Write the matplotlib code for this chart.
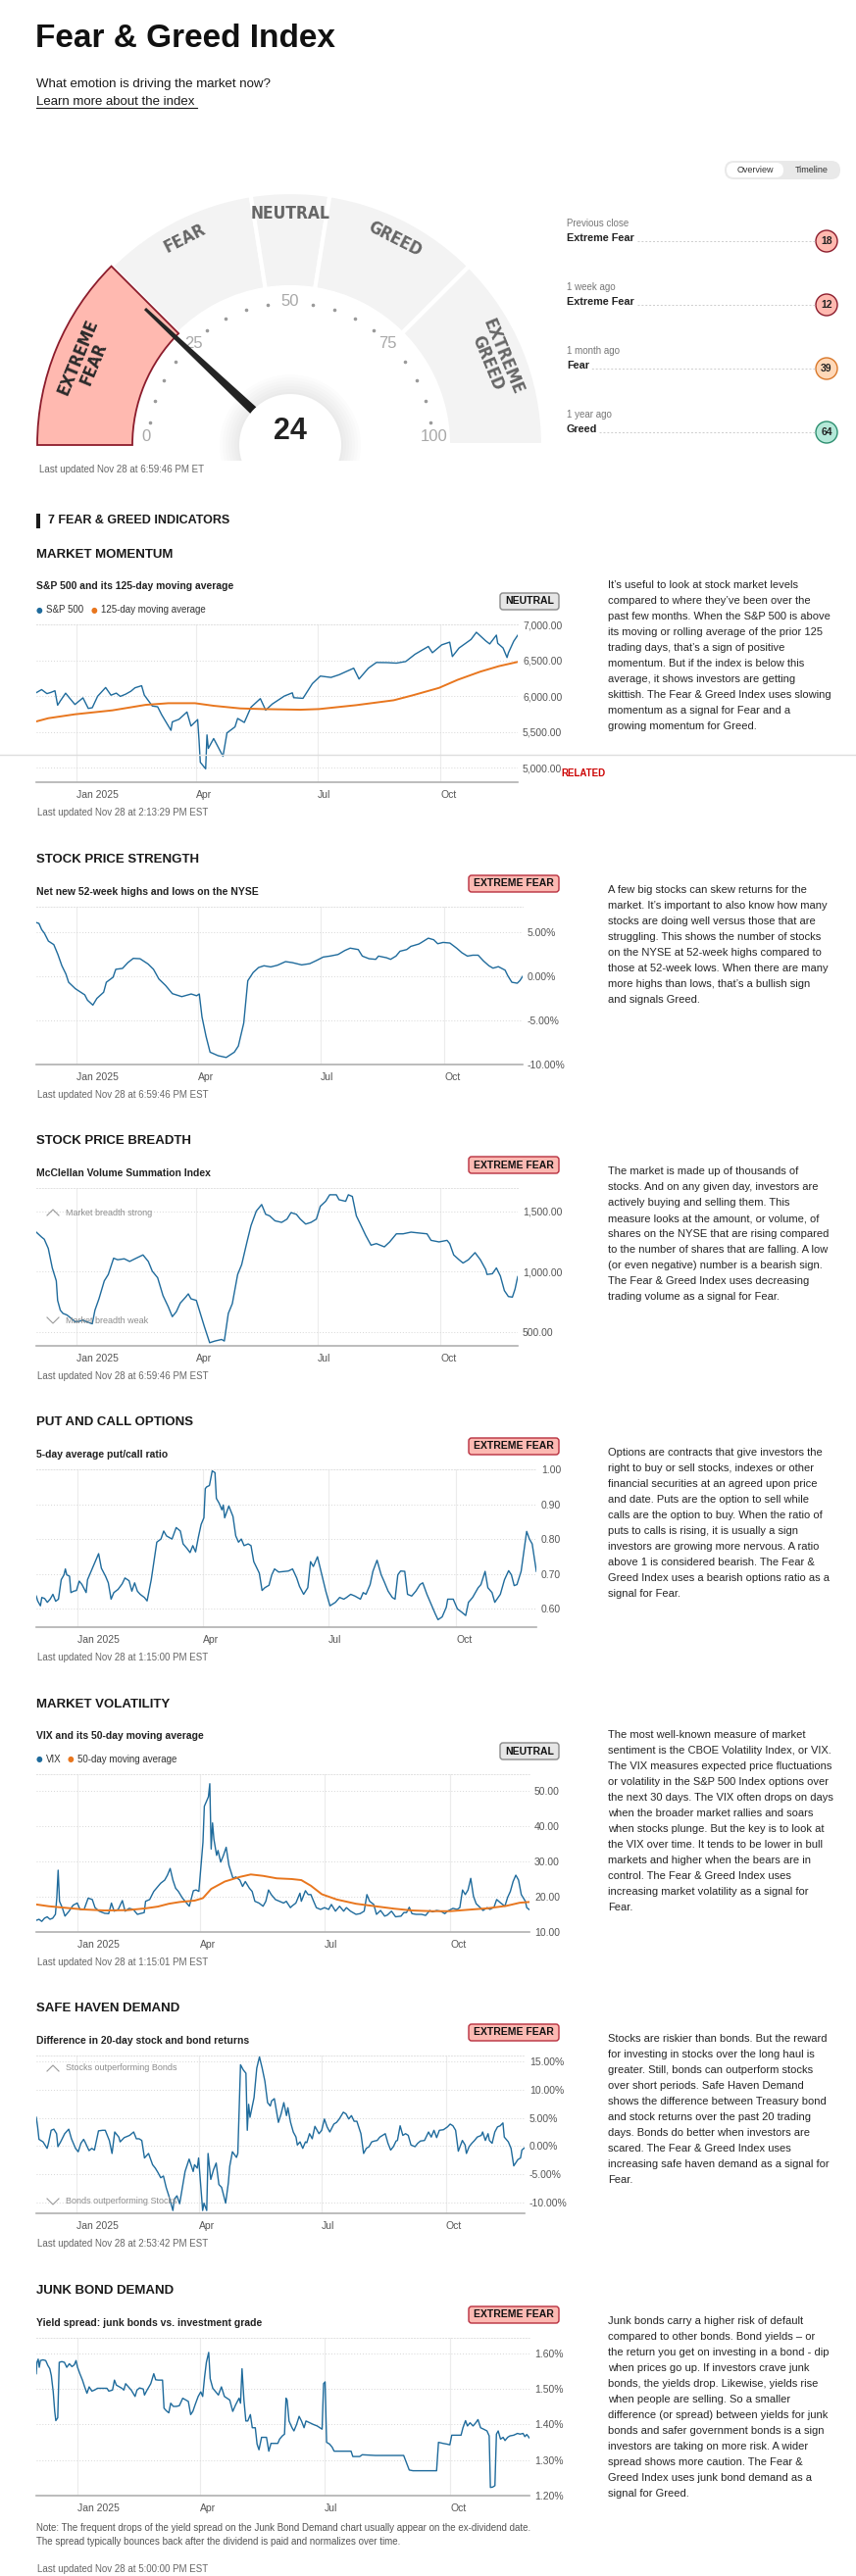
import matplotlib
matplotlib.use("Agg")
import matplotlib.pyplot as plt
import numpy as np
from matplotlib.patches import Wedge, Circle, Polygon, FancyBboxPatch
from matplotlib.ticker import FuncFormatter

plt.rcParams["font.family"] = ["Liberation Sans", "DejaVu Sans"]

W, H = 873, 2628
INK = "#1a1a1a"
GREY = "#555555"
BLUE = "#1f6b9c"
ORANGE = "#e8761e"

# ---------------- gauge data ----------------
score = 24
zone_edges = [0, 25, 45, 55, 75, 100]
zone_names = ["EXTREME\nFEAR", "FEAR", "NEUTRAL", "GREED", "EXTREME\nGREED"]
zone_fill = ["#ffb9b0", "#ffd8b8", "#e6e6e6", "#b4e8d8", "#8fd9c1"]
zone_edge = ["#8c1c2c", "#d9782a", "#8a8a8a", "#2d8f70", "#1f7a5c"]
hist_when = ["Previous close", "1 week ago", "1 month ago", "1 year ago"]
hist_label = ["Extreme Fear", "Extreme Fear", "Fear", "Greed"]
hist_score = [18, 12, 39, 64]

# ---------------- chart data (day 0 = 2024-12-01) ----------------
tick_days = [31, 121, 212, 304]
tick_names = ["Jan 2025", "Apr", "Jul", "Oct"]

sp_day = [1, 5, 9, 12, 15, 17, 19, 23, 26, 30, 36, 40, 43, 47, 53, 57, 61, 64, 68, 72,
          75, 80, 82, 88, 92, 95, 99, 102, 103, 108, 114, 117, 122, 123, 124, 128, 129, 130, 134, 141,
          144, 150, 152, 157, 162, 169, 173, 178, 187, 193, 194, 201, 208, 214, 222, 228, 239, 243, 250, 256,
          264, 271, 278, 285, 295, 298, 305, 311, 313, 318, 327, 331, 338, 341, 346, 347, 351, 354, 355, 359, 362]
sp_val = [6047, 6090, 6034, 6051, 6074, 5872, 5931, 6040, 5971, 5882, 5975, 5827, 5837, 5997, 6119, 6012, 6041, 5995, 6026, 6068,
          6115, 6144, 6013, 5861, 5850, 5739, 5614, 5521, 5639, 5675, 5777, 5581, 5671, 5397, 5074, 4983, 5457, 5268, 5406, 5158,
          5485, 5569, 5687, 5631, 5844, 5964, 5803, 5889, 6000, 6045, 5977, 5968, 6173, 6279, 6260, 6297, 6389, 6238, 6389, 6469,
          6467, 6460, 6482, 6584, 6693, 6605, 6715, 6753, 6552, 6671, 6791, 6891, 6771, 6728, 6851, 6737, 6672, 6538, 6603, 6766, 6849]
ma_day = [1, 10, 30, 58, 83, 100, 120, 134, 154, 171, 199, 213, 241, 269, 283, 303, 317, 334, 348, 362]
ma_val = [5645, 5690, 5745, 5800, 5877, 5900, 5900, 5864, 5827, 5818, 5809, 5818, 5873, 5941, 6009, 6114, 6227, 6341, 6418, 6477]

ss_day = [1, 3, 5, 7, 10, 14, 17, 20, 23, 25, 30, 34, 37, 39, 43, 46, 51, 53, 58, 60,
          65, 69, 73, 78, 84, 88, 92, 97, 102, 109, 116, 120, 122, 124, 127, 130, 136, 142, 148, 151,
          155, 158, 162, 166, 170, 175, 180, 186, 191, 198, 204, 209, 214, 219, 225, 230, 234, 240, 243, 248,
          253, 255, 261, 264, 268, 271, 276, 279, 285, 287, 292, 296, 299, 303, 308, 313, 317, 321, 325, 329,
          333, 337, 340, 344, 349, 351, 354, 358, 360, 362]
ss_val = [6.1, 6.0, 5.3, 4.9, 4.0, 3.6, 2.5, 1.2, 0.26, -0.67, -1.4, -1.8, -2.1, -2.7, -3.26, -2.5, -1.8, -0.67, -0.1, 0.8,
          0.9, 1.56, 2.04, 2.0, 1.4, 0.8, -0.3, -1.04, -1.96, -2.3, -2.0, -2.2, -2.0, -4.6, -6.8, -8.6, -9.0, -9.2, -8.6, -7.9,
          -5.3, -0.5, 0.44, 1.0, 1.2, 1.07, 1.26, 1.67, 1.56, 1.3, 1.44, 1.8, 2.19, 2.3, 2.48, 2.93, 3.2, 3.04, 2.3, 2.0,
          1.93, 2.3, 2.11, 1.93, 2.3, 2.85, 3.04, 3.4, 3.67, 3.85, 4.33, 4.15, 3.7, 3.85, 3.78, 3.2, 2.67, 2.3, 2.4, 2.4,
          1.74, 1.2, 0.93, 1.1, 0.7, 0.07, -0.67, -0.78, -0.48, 0.0]

br_day = [1, 5, 7, 10, 13, 16, 17, 19, 21, 24, 27, 30, 33, 36, 38, 43, 45, 48, 52, 55,
          59, 62, 67, 71, 75, 81, 85, 88, 92, 96, 100, 103, 106, 109, 113, 115, 117, 121, 124, 127,
          131, 135, 140, 142, 145, 148, 152, 155, 159, 162, 166, 170, 173, 176, 180, 185, 189, 192, 196, 199,
          203, 207, 211, 214, 218, 221, 226, 228, 233, 235, 238, 241, 244, 248, 252, 256, 262, 266, 271, 276,
          282, 287, 294, 297, 303, 309, 311, 314, 318, 321, 325, 330, 334, 338, 339, 343, 346, 349, 352, 355,
          358, 360, 362]
br_val = [1329, 1288, 1270, 1194, 1032, 925, 763, 682, 655, 642, 615, 588, 588, 601, 588, 569, 682, 776, 925, 978,
          1113, 1100, 1108, 1086, 1108, 1140, 1086, 1005, 951, 803, 709, 628, 669, 741, 790, 817, 776, 763, 655, 547,
          412, 426, 439, 426, 655, 736, 978, 1059, 1248, 1383, 1504, 1558, 1477, 1464, 1423, 1410, 1437, 1491, 1477, 1437,
          1396, 1410, 1437, 1544, 1585, 1639, 1639, 1598, 1585, 1639, 1625, 1464, 1396, 1302, 1221, 1234, 1207, 1248, 1315, 1315,
          1329, 1323, 1315, 1261, 1248, 1261, 1234, 1140, 1100, 1073, 1100, 1159, 1100, 1019, 978, 984, 1032, 965, 844, 795,
          790, 857, 960]

pc_day = [1, 2, 4, 5, 7, 9, 11, 13, 15, 17, 19, 21, 22, 23, 25, 26, 28, 30, 32, 34,
          37, 38, 41, 44, 46, 48, 51, 53, 55, 57, 60, 63, 65, 68, 70, 72, 74, 76, 79, 81,
          84, 87, 88, 91, 93, 95, 99, 102, 105, 107, 110, 112, 114, 116, 118, 120, 122, 123, 124, 126,
          128, 130, 131, 133, 135, 136, 137, 139, 140, 143, 145, 147, 149, 151, 154, 156, 158, 162, 164, 166,
          169, 171, 173, 176, 181, 183, 186, 189, 191, 194, 197, 199, 201, 204, 206, 208, 210, 213, 217, 220,
          223, 225, 228, 231, 235, 237, 239, 242, 244, 247, 250, 252, 255, 258, 260, 262, 264, 267, 269, 272,
          275, 278, 280, 283, 286, 289, 291, 294, 297, 298, 302, 305, 308, 311, 313, 316, 320, 322, 325, 327,
          330, 332, 336, 339, 342, 344, 346, 348, 351, 355, 357, 359, 362]
pc_val = [0.636, 0.622, 0.608, 0.632, 0.629, 0.618, 0.627, 0.641, 0.621, 0.627, 0.683, 0.697, 0.714, 0.697, 0.693, 0.646, 0.650, 0.652, 0.679, 0.669,
          0.646, 0.683, 0.711, 0.739, 0.758, 0.716, 0.693, 0.674, 0.627, 0.646, 0.655, 0.671, 0.688, 0.680, 0.650, 0.674, 0.650, 0.641, 0.632, 0.622,
          0.683, 0.763, 0.791, 0.800, 0.823, 0.809, 0.800, 0.833, 0.823, 0.786, 0.772, 0.761, 0.781, 0.763, 0.805, 0.842, 0.861, 0.945, 0.950, 0.954,
          0.996, 0.991, 0.917, 0.903, 0.884, 0.898, 0.861, 0.884, 0.895, 0.865, 0.809, 0.791, 0.800, 0.781, 0.786, 0.781, 0.735, 0.702, 0.652, 0.660,
          0.667, 0.697, 0.714, 0.705, 0.707, 0.708, 0.714, 0.688, 0.664, 0.641, 0.660, 0.735, 0.721, 0.749, 0.716, 0.683, 0.650, 0.608, 0.618, 0.632,
          0.627, 0.632, 0.641, 0.636, 0.627, 0.646, 0.641, 0.669, 0.707, 0.739, 0.697, 0.679, 0.650, 0.632, 0.627, 0.697, 0.708, 0.707, 0.641, 0.636,
          0.650, 0.669, 0.674, 0.641, 0.613, 0.585, 0.568, 0.576, 0.604, 0.627, 0.627, 0.599, 0.590, 0.580, 0.618, 0.632, 0.660, 0.669, 0.707, 0.660,
          0.646, 0.618, 0.641, 0.683, 0.709, 0.697, 0.666, 0.669, 0.707, 0.822, 0.800, 0.786, 0.707]

vix_day = [1, 3, 5, 7, 9, 11, 13, 15, 16, 17, 18, 20, 22, 25, 28, 31, 33, 36, 39, 42,
           44, 47, 51, 54, 56, 58, 61, 64, 66, 69, 72, 75, 77, 80, 81, 84, 87, 90, 92, 95,
           97, 99, 101, 103, 105, 108, 111, 113, 116, 118, 120, 123, 124, 125, 127, 128, 129, 130, 131, 133,
           134, 136, 138, 140, 142, 145, 147, 150, 152, 154, 157, 159, 161, 164, 167, 169, 171, 173, 176, 179,
           182, 184, 187, 188, 191, 194, 195, 198, 200, 202, 204, 206, 209, 212, 215, 217, 220, 223, 226, 228,
           231, 235, 238, 241, 243, 245, 248, 250, 253, 256, 258, 261, 264, 268, 270, 272, 274, 276, 279, 283,
           286, 289, 291, 294, 297, 300, 302, 306, 309, 311, 313, 315, 317, 319, 321, 323, 326, 328, 331, 333,
           336, 338, 341, 344, 346, 348, 350, 352, 354, 356, 359, 360, 362]
vix_val = [13.3, 13.6, 13.0, 13.9, 14.3, 13.6, 13.9, 15.0, 19.6, 27.5, 18.7, 16.9, 14.5, 15.9, 17.6, 18.2, 16.4, 16.4, 19.6, 19.2,
           16.9, 15.9, 15.3, 15.2, 18.2, 15.9, 16.4, 18.9, 15.9, 16.7, 16.4, 15.0, 15.2, 15.5, 18.7, 19.2, 21.5, 22.9, 23.8, 24.7,
           26.1, 28.0, 24.7, 22.4, 21.5, 19.6, 18.2, 17.3, 21.7, 21.9, 21.5, 35.4, 45.6, 46.5, 48.3, 52.0, 33.5, 40.9, 36.3, 31.7,
           33.1, 29.8, 31.7, 34.0, 28.9, 25.2, 25.6, 24.7, 22.9, 24.3, 22.4, 21.5, 18.7, 18.2, 17.3, 18.7, 21.9, 20.6, 19.2, 18.7,
           18.2, 18.7, 16.9, 17.3, 18.2, 21.0, 18.7, 21.7, 20.6, 20.6, 18.7, 16.9, 16.4, 16.9, 16.4, 17.8, 15.9, 17.3, 15.9, 16.9,
           15.9, 15.0, 15.2, 15.9, 20.6, 18.7, 17.8, 15.0, 16.1, 14.5, 14.8, 15.9, 14.3, 14.5, 15.5, 15.5, 17.0, 15.2, 15.0, 15.0,
           14.7, 16.1, 15.7, 16.1, 15.9, 15.2, 15.9, 16.7, 16.4, 16.9, 21.9, 20.6, 21.9, 25.2, 20.1, 18.0, 16.9, 16.1, 16.9, 16.4,
           17.0, 19.2, 18.2, 17.3, 19.8, 21.5, 24.3, 26.1, 24.7, 20.6, 18.7, 16.9, 16.3]
vma_day = [1, 10, 21, 35, 51, 68, 81, 90, 98, 106, 117, 123, 129, 139, 150, 158, 167, 177, 188, 195,
           202, 210, 221, 235, 249, 263, 276, 290, 304, 317, 331, 345, 355, 362]
vma_val = [17.8, 17.3, 16.9, 16.4, 16.1, 16.2, 16.7, 17.2, 18.0, 18.5, 18.9, 19.6, 22.2, 24.3, 25.6, 26.3, 25.9, 25.2, 25.0, 24.7,
           23.1, 20.7, 19.2, 18.0, 17.3, 16.6, 16.1, 15.9, 15.9, 16.3, 16.7, 17.4, 18.3, 18.5]

sh_day = [1, 2, 3, 6, 9, 10, 12, 14, 16, 17, 19, 22, 25, 27, 30, 32, 34, 36, 37, 40,
          42, 44, 47, 50, 52, 55, 57, 59, 62, 63, 66, 70, 73, 75, 77, 79, 81, 84, 87, 89,
          91, 93, 95, 97, 99, 100, 102, 103, 105, 107, 109, 111, 114, 117, 118, 120, 121, 123, 124, 125,
          127, 128, 130, 132, 134, 136, 138, 141, 143, 144, 146, 149, 150, 152, 154, 156, 157, 158, 159, 162,
          164, 166, 168, 170, 172, 174, 175, 177, 180, 182, 184, 186, 187, 189, 191, 193, 194, 196, 198, 200,
          201, 203, 205, 207, 210, 212, 214, 216, 218, 221, 223, 225, 228, 230, 232, 234, 236, 238, 241, 243,
          245, 247, 249, 251, 253, 255, 257, 259, 261, 263, 265, 267, 268, 270, 272, 274, 276, 278, 281, 283,
          285, 288, 291, 293, 295, 297, 299, 302, 305, 307, 309, 311, 313, 316, 318, 319, 321, 323, 325, 327,
          330, 331, 333, 335, 336, 338, 340, 342, 344, 346, 347, 350, 352, 353, 354, 357, 359, 360, 362]
sh_val = [5.1, 3.4, 1.2, 0.75, -0.4, 0.5, 2.8, 3.0, 2.2, -0.1, 0.75, 2.2, 3.0, 1.3, -0.4, -1.0, 0.5, 1.2, 0.75, -0.8,
          -0.4, -0.7, 2.7, 2.8, 2.8, 1.0, -1.3, 2.5, 1.6, 0.75, 1.5, 1.9, 2.5, 1.3, 1.3, 1.0, -2.1, -1.3, -3.3, -3.9,
          -4.7, -5.6, -5.3, -7.3, -8.8, -9.7, -11.4, -9.4, -8.8, -10.2, -7.3, -4.5, -2.3, -4.5, -3.3, -3.9, -2.1, -8.2, -11.4, -10.1,
          -11.4, -1.3, -5.9, -4.2, -3.0, -6.8, -7.3, -10.1, -6.5, -3.6, -1.0, -2.0, -1.3, 14.4, 13.5, 12.9, 2.8, 7.4, 5.1, 8.6,
          13.8, 15.8, 13.8, 11.5, 7.7, 7.1, 8.0, 8.4, 4.2, 5.7, 7.7, 5.4, 6.8, 4.2, 2.5, 1.6, 0.2, 0.75, -0.4, 0.75,
          0.6, 2.2, 1.3, 3.5, 2.2, 2.8, 4.8, 3.4, 2.5, 3.9, 4.2, 4.8, 6.0, 5.7, 4.8, 5.4, 4.4, 4.4, 2.2, -1.3,
          -0.4, -0.1, 0.75, 0.9, 1.0, 1.6, 1.9, 2.2, 0.5, -0.7, -0.1, 0.9, 1.0, 3.6, 1.9, 2.2, 1.9, 0.2, -0.1, 0.5,
          0.9, 1.0, 2.5, 1.6, 2.8, 1.5, 2.8, 2.9, 3.4, 3.9, 3.6, 2.8, -0.9, 1.0, 0.2, -1.3, -0.1, 0.5, 1.0, 1.6,
          1.9, 2.5, 1.0, 2.2, 1.0, 0.5, 2.5, 3.4, 3.6, 4.1, 1.6, 0.75, -0.4, -1.9, -3.5, -2.4, -2.1, -0.7, -0.3]

jb_day = [1.0, 1.5, 2.4, 3.2, 4.0, 5.9, 7.9, 9.5, 10.9, 12.0, 13.4, 14.5, 15.3, 16.7, 17.8, 19.7, 21.6, 23.3, 25.2, 27.1,
          28.8, 30.1, 31.2, 32.9, 34.8, 36.4, 38.1, 39.7, 41.7, 43.6, 45.8, 48.6, 52.7, 54.1, 56.8, 58.2, 59.6, 61.8, 63.7, 65.1,
          66.4, 67.8, 70.5, 73.3, 74.7, 76.6, 79.3, 80.2, 82.1, 84.8, 87.0, 88.4, 90.3, 93.4, 94.5, 96.1, 98.0, 99.4, 101.3, 103.5,
          105.7, 108.2, 110.4, 112.3, 114.0, 115.6, 117.3, 119.5, 121.4, 122.8, 124.2, 125.5, 127.2, 128.3, 130.2, 132.4, 134.3, 136.5, 138.7, 140.6,
          142.6, 144.8, 147.0, 149.4, 150.5, 151.6, 153.0, 154.4, 155.8, 157.7, 159.1, 161.3, 162.6, 164.0, 165.9, 167.6, 169.5, 171.2, 172.8, 175.0,
          177.8, 179.1, 181.1, 182.7, 183.8, 184.6, 186.0, 188.2, 189.6, 191.5, 193.4, 195.1, 197.0, 198.4, 201.1, 203.9, 206.6, 210.2, 211.3, 212.4,
          213.5, 215.7, 217.6, 219.0, 221.7, 227.2, 231.4, 232.7, 237.7, 239.6, 249.2, 260.2, 269.9, 274.0, 276.7, 285.0, 294.0, 295.4, 298.7, 301.5,
          303.7, 305.1, 308.3, 311.9, 313.3, 315.2, 316.6, 318.5, 320.7, 322.7, 324.3, 326.2, 328.4, 330.9, 332.5, 333.4, 335.0, 336.7, 337.8, 339.1,
          340.8, 342.7, 344.1, 346.0, 347.7, 350.4, 353.2, 355.1, 357.3, 358.6, 360.0, 362.0]
jb_val = [1.543, 1.575, 1.584, 1.561, 1.580, 1.582, 1.580, 1.566, 1.557, 1.538, 1.492, 1.437, 1.411, 1.419, 1.575, 1.577, 1.575, 1.561, 1.571, 1.563,
          1.568, 1.580, 1.561, 1.543, 1.525, 1.506, 1.488, 1.506, 1.494, 1.497, 1.502, 1.502, 1.502, 1.494, 1.497, 1.525, 1.511, 1.506, 1.502, 1.497,
          1.515, 1.509, 1.497, 1.479, 1.497, 1.503, 1.500, 1.483, 1.497, 1.515, 1.543, 1.526, 1.525, 1.525, 1.446, 1.439, 1.433, 1.460, 1.451, 1.451,
          1.453, 1.474, 1.469, 1.465, 1.428, 1.437, 1.456, 1.479, 1.492, 1.479, 1.534, 1.575, 1.603, 1.529, 1.502, 1.492, 1.483, 1.506, 1.479, 1.474,
          1.469, 1.437, 1.456, 1.474, 1.460, 1.557, 1.469, 1.410, 1.410, 1.428, 1.391, 1.391, 1.345, 1.329, 1.364, 1.364, 1.364, 1.325, 1.347, 1.347,
          1.347, 1.359, 1.368, 1.373, 1.474, 1.469, 1.410, 1.391, 1.382, 1.400, 1.423, 1.410, 1.391, 1.410, 1.405, 1.400, 1.396, 1.387, 1.515, 1.520,
          1.350, 1.345, 1.336, 1.325, 1.325, 1.325, 1.325, 1.310, 1.310, 1.315, 1.313, 1.313, 1.313, 1.272, 1.270, 1.270, 1.270, 1.350, 1.347, 1.345,
          1.343, 1.370, 1.370, 1.370, 1.391, 1.411, 1.396, 1.405, 1.396, 1.405, 1.414, 1.391, 1.387, 1.382, 1.368, 1.223, 1.224, 1.228, 1.373, 1.382,
          1.359, 1.364, 1.355, 1.364, 1.368, 1.370, 1.375, 1.373, 1.375, 1.366, 1.372, 1.362]

desc_momentum = [
    "It’s useful to look at stock market levels",
    "compared to where they’ve been over the",
    "past few months. When the S&P 500 is above",
    "its moving or rolling average of the prior 125",
    "trading days, that’s a sign of positive",
    "momentum. But if the index is below this",
    "average, it shows investors are getting",
    "skittish. The Fear & Greed Index uses slowing",
    "momentum as a signal for Fear and a",
    "growing momentum for Greed."]
desc_strength = [
    "A few big stocks can skew returns for the",
    "market. It’s important to also know how many",
    "stocks are doing well versus those that are",
    "struggling. This shows the number of stocks",
    "on the NYSE at 52-week highs compared to",
    "those at 52-week lows. When there are many",
    "more highs than lows, that’s a bullish sign",
    "and signals Greed."]
desc_breadth = [
    "The market is made up of thousands of",
    "stocks. And on any given day, investors are",
    "actively buying and selling them. This",
    "measure looks at the amount, or volume, of",
    "shares on the NYSE that are rising compared",
    "to the number of shares that are falling. A low",
    "(or even negative) number is a bearish sign.",
    "The Fear & Greed Index uses decreasing",
    "trading volume as a signal for Fear."]
desc_options = [
    "Options are contracts that give investors the",
    "right to buy or sell stocks, indexes or other",
    "financial securities at an agreed upon price",
    "and date. Puts are the option to sell while",
    "calls are the option to buy. When the ratio of",
    "puts to calls is rising, it is usually a sign",
    "investors are growing more nervous. A ratio",
    "above 1 is considered bearish. The Fear &",
    "Greed Index uses a bearish options ratio as a",
    "signal for Fear."]
desc_volatility = [
    "The most well-known measure of market",
    "sentiment is the CBOE Volatility Index, or VIX.",
    "The VIX measures expected price fluctuations",
    "or volatility in the S&P 500 Index options over",
    "the next 30 days. The VIX often drops on days",
    "when the broader market rallies and soars",
    "when stocks plunge. But the key is to look at",
    "the VIX over time. It tends to be lower in bull",
    "markets and higher when the bears are in",
    "control. The Fear & Greed Index uses",
    "increasing market volatility as a signal for",
    "Fear."]
desc_safe = [
    "Stocks are riskier than bonds. But the reward",
    "for investing in stocks over the long haul is",
    "greater. Still, bonds can outperform stocks",
    "over short periods. Safe Haven Demand",
    "shows the difference between Treasury bond",
    "and stock returns over the past 20 trading",
    "days. Bonds do better when investors are",
    "scared. The Fear & Greed Index uses",
    "increasing safe haven demand as a signal for",
    "Fear."]
desc_junk = [
    "Junk bonds carry a higher risk of default",
    "compared to other bonds. Bond yields – or",
    "the return you get on investing in a bond - dip",
    "when prices go up. If investors crave junk",
    "bonds, the yields drop. Likewise, yields rise",
    "when people are selling. So a smaller",
    "difference (or spread) between yields for junk",
    "bonds and safer government bonds is a sign",
    "investors are taking on more risk. A wider",
    "spread shows more caution. The Fear &",
    "Greed Index uses junk bond demand as a",
    "signal for Greed."]

fig = plt.figure(figsize=(W / 100, H / 100), dpi=100, facecolor="white")

# overlay axes in pixel units for all page text
ov = fig.add_axes([0, 0, 1, 1], zorder=5)
ov.set_xlim(0, W)
ov.set_ylim(H, 0)
ov.axis("off")


def put(x, y, s, size=8, color=INK, weight="normal", ha="left", va="center", **kw):
    return ov.text(x, y, s, fontsize=size, color=color, fontweight=weight, ha=ha, va=va, **kw)


def box(x0, y0, x1, y1):
    return [x0 / W, 1 - y1 / H, (x1 - x0) / W, (y1 - y0) / H]


def zone_of(v):
    for i in range(len(zone_names)):
        if zone_edges[i] <= v < zone_edges[i + 1]:
            return i
    return len(zone_names) - 1


# ---------------- header ----------------
put(36, 40, "Fear & Greed Index", size=24, weight="bold", color="#111111")
put(37, 86, "What emotion is driving the market now?", size=9.5)
put(37, 104, "Learn more about the index", size=9.5)
ov.plot([37, 201], [110, 110], color=INK, lw=0.8)
put(40, 479, "Last updated Nov 28 at 6:59:46 PM ET", size=7, color="#666666")

# overview / timeline pill
ov.add_patch(FancyBboxPatch((739, 164), 118, 19, boxstyle="round,pad=0,rounding_size=9.5",
                            fc="#e9e9e9", ec="none"))
ov.add_patch(FancyBboxPatch((741, 166), 58, 15, boxstyle="round,pad=0,rounding_size=7.5",
                            fc="white", ec="none"))
put(770, 174, "Overview", size=6.5, color="#333333", ha="center")
put(828, 174, "Timeline", size=6.5, color="#333333", ha="center")

# history list
for i, (when, lab, s) in enumerate(zip(hist_when, hist_label, hist_score)):
    y0 = 228 + 65 * i
    z = zone_of(s)
    ov.plot([580, 832], [y0 + 18, y0 + 18], color="#cccccc", lw=0.7, ls=(0, (2, 2)))
    put(578, y0, when, size=7, color="#777777")
    put(578, y0 + 15, lab, size=7.8, weight="bold", color="#222222",
        bbox=dict(fc="white", ec="none", pad=1.5))
    ov.add_patch(Circle((843, y0 + 18), 11, fc=zone_fill[z], ec=zone_edge[z], lw=1.0))
    put(843, y0 + 18, str(s), size=7.5, weight="bold", ha="center", color="#222222")

# ---------------- gauge ----------------
gx = fig.add_axes(box(30, 185, 566, 470))
gx.set_xlim(-266, 270)
gx.set_ylim(-16, 269)
gx.axis("off")

active = zone_of(score)
for i, name in enumerate(zone_names):
    t1 = 180 - 1.8 * zone_edges[i + 1]
    t2 = 180 - 1.8 * zone_edges[i]
    if i == active:
        gx.add_patch(Wedge((0, 0), 258, t1, t2, width=97, fc="#ffb9b0", ec="#8c1c2c", lw=1.3, zorder=3))
        col = "#2a2a2a"
    else:
        gx.add_patch(Wedge((0, 0), 258, t1, t2, width=97, fc="#f3f3f3", ec="white", lw=3, zorder=2))
        col = "#666666"
    mid = (t1 + t2) / 2
    r = 226 if "\n" in name else 236
    gx.text(r * np.cos(np.radians(mid)), r * np.sin(np.radians(mid)), name,
            rotation=mid - 90, rotation_mode="anchor", ha="center", va="center",
            multialignment="center", fontsize=12.5, fontweight="bold", color=col,
            family=["Liberation Sans Narrow", "DejaVu Sans"], fontstretch="condensed",
            linespacing=0.95, zorder=4)

dot_vals = [v for v in range(5, 100, 5) if v % 25]
dot_ang = np.radians(180 - 1.8 * np.array(dot_vals))
gx.scatter(145 * np.cos(dot_ang), 145 * np.sin(dot_ang), s=2.5, color="#9a9a9a", zorder=3)
for v in [0, 25, 50, 75, 100]:
    a = np.radians(180 - 1.8 * v)
    lx, ly = 147 * np.cos(a), max(147 * np.sin(a), 8)
    if v in (25, 75):
        lx = np.sign(lx) * 99
    gx.text(lx, ly, str(v), ha="center", va="center", fontsize=12, color="#a8a8a8", zorder=3)

# needle and hub
a = np.radians(180 - 1.8 * score)
p = np.array([np.cos(a), np.sin(a)])
n = np.array([-np.sin(a), np.cos(a)])
needle = [50 * p + 4.5 * n, 203 * p + 1.5 * n, 203 * p - 1.5 * n, 50 * p - 4.5 * n]
gx.add_patch(Polygon(needle, closed=True, fc="#242424", ec="none", zorder=5))
for r in range(72, 52, -3):
    gx.add_patch(Circle((0, 0), r, fc="black", ec="none", alpha=0.012, zorder=6))
gx.add_patch(Circle((0, 0), 52, fc="white", ec="none", zorder=7))
gx.text(0, 14, str(score), ha="center", va="center", fontsize=22, fontweight="bold",
        color="#222222", zorder=8)

# ---------------- indicators ----------------
ov.add_patch(FancyBboxPatch((37, 524), 4, 15, boxstyle="square,pad=0", fc=INK, ec="none"))
put(49, 531, "7 FEAR & GREED INDICATORS", size=9, weight="bold")


def chart(top, right, heading, subtitle, badge, updated, desc, series, ylim, yticks, yfmt,
          legend=None, hints=None, note=None):
    bottom = top + 161
    ax = fig.add_axes(box(37, top, right, bottom))
    for days, vals, color, lw in series:
        ax.plot(days, vals, color=color, lw=lw, solid_joinstyle="round")
    ax.set_xlim(1, 362)
    ax.set_ylim(*ylim)
    ax.set_yticks(yticks)
    ax.yaxis.set_major_formatter(FuncFormatter(lambda v, pos: yfmt.format(v)))
    ax.yaxis.tick_right()
    ax.tick_params(axis="y", length=0, pad=3.6, labelsize=7.5, labelcolor=GREY)
    ax.set_xticks(tick_days, tick_names, ha="left")
    ax.tick_params(axis="x", length=0, pad=6, labelsize=7.5, labelcolor=GREY)
    ax.grid(axis="x", color="#ececec", lw=0.8)
    ax.grid(axis="y", color="#d6d6d6", lw=0.7, ls=(0, (1, 2)))
    ax.set_axisbelow(True)
    for s in ["left", "right"]:
        ax.spines[s].set_visible(False)
    ax.spines["top"].set_color("#e0e0e0")
    ax.spines["top"].set_linestyle((0, (1, 2)))
    ax.spines["top"].set_linewidth(0.7)
    ax.spines["bottom"].set_color("#b0b0b0")
    ax.spines["bottom"].set_linewidth(1.2)

    head_y = top - (71 if legend else 48)
    put(37, head_y, heading, size=9.5, weight="bold")
    put(37, top - (39 if legend else 15), subtitle, size=7.5, weight="bold", color="#222222")
    if legend:
        for x, label, color in legend:
            put(x, top - 15, "●", size=5.5, color=color, ha="center", family="DejaVu Sans")
            put(x + 7, top - 15, label, size=7, color="#333333")
    bx0 = 510 if badge == "NEUTRAL" else 478
    bfc, bec = ("#e6e6e6", "#8a8a8a") if badge == "NEUTRAL" else ("#fcb9b2", "#b8303f")
    ov.add_patch(FancyBboxPatch((bx0, top - 32), 570 - bx0, 17, boxstyle="round,pad=0,rounding_size=3",
                                fc=bfc, ec=bec, lw=1.0))
    put((bx0 + 570) / 2, top - 23.5, badge, size=7.5, weight="bold", ha="center", color="#111111")
    if hints:
        for label, y, up in hints:
            d = 3 if up else -3
            ov.plot([48, 54, 60], [y + d, y - d, y + d], color="#9a9a9a", lw=0.8)
            put(67, y, label, size=6.5, color="#8c8c8c")
    if note:
        for j, line in enumerate(note):
            put(37, bottom + 33 + 14 * j, line, size=7, color="#555555")
        put(38, bottom + 75, updated, size=7, color="#666666")
    else:
        put(38, bottom + 31, updated, size=7, color="#666666")
    for j, line in enumerate(desc):
        put(620, head_y + 31 + 16 * j, line, size=8, color="#262626")
    return ax


chart(637, 528, "MARKET MOMENTUM", "S&P 500 and its 125-day moving average", "NEUTRAL",
      "Last updated Nov 28 at 2:13:29 PM EST", desc_momentum,
      [(sp_day, sp_val, BLUE, 1.0), (ma_day, ma_val, ORANGE, 1.4)],
      (4796, 7001), [5000, 5500, 6000, 6500, 7000], "{:,.2f}",
      legend=[(40, "S&P 500", BLUE), (96, "125-day moving average", ORANGE)])

chart(925, 533, "STOCK PRICE STRENGTH", "Net new 52-week highs and lows on the NYSE", "EXTREME FEAR",
      "Last updated Nov 28 at 6:59:46 PM EST", desc_strength,
      [(ss_day, ss_val, BLUE, 1.0)], (-10, 7.9), [-10, -5, 0, 5], "{:.2f}%")

chart(1212, 528, "STOCK PRICE BREADTH", "McClellan Volume Summation Index", "EXTREME FEAR",
      "Last updated Nov 28 at 6:59:46 PM EST", desc_breadth,
      [(br_day, br_val, BLUE, 1.0)], (386, 1695), [500, 1000, 1500], "{:,.2f}",
      hints=[("Market breadth strong", 1237, True), ("Market breadth weak", 1347, False)])

chart(1499, 547, "PUT AND CALL OPTIONS", "5-day average put/call ratio", "EXTREME FEAR",
      "Last updated Nov 28 at 1:15:00 PM EST", desc_options,
      [(pc_day, pc_val, BLUE, 1.0)], (0.5465, 1.0005), [0.6, 0.7, 0.8, 0.9, 1.0], "{:.2f}")

chart(1810, 540, "MARKET VOLATILITY", "VIX and its 50-day moving average", "NEUTRAL",
      "Last updated Nov 28 at 1:15:01 PM EST", desc_volatility,
      [(vix_day, vix_val, BLUE, 1.0), (vma_day, vma_val, ORANGE, 1.4)],
      (10, 54.7), [10, 20, 30, 40, 50], "{:.2f}",
      legend=[(40, "VIX", BLUE), (72, "50-day moving average", ORANGE)])

chart(2097, 535, "SAFE HAVEN DEMAND", "Difference in 20-day stock and bond returns", "EXTREME FEAR",
      "Last updated Nov 28 at 2:53:42 PM EST", desc_safe,
      [(sh_day, sh_val, BLUE, 1.0)], (-11.9, 16.04), [-10, -5, 0, 5, 10, 15], "{:.2f}%",
      hints=[("Stocks outperforming Bonds", 2110, True), ("Bonds outperforming Stocks", 2246, False)])

chart(2385, 540, "JUNK BOND DEMAND", "Yield spread: junk bonds vs. investment grade", "EXTREME FEAR",
      "Last updated Nov 28 at 5:00:00 PM EST", desc_junk,
      [(jb_day, jb_val, BLUE, 1.0)], (1.2, 1.644), [1.2, 1.3, 1.4, 1.5, 1.6], "{:.2f}%",
      note=["Note: The frequent drops of the yield spread on the Junk Bond Demand chart usually appear on the ex-dividend date.",
            "The spread typically bounces back after the dividend is paid and normalizes over time."])

# page separator and related tag that sit over the first chart
ov.plot([0, W], [770, 770], color="#dddddd", lw=1.0)
put(572, 789, "RELATED", size=7, weight="bold", color="#cc0000")

fig.savefig("out.png", dpi=100, facecolor="white")
